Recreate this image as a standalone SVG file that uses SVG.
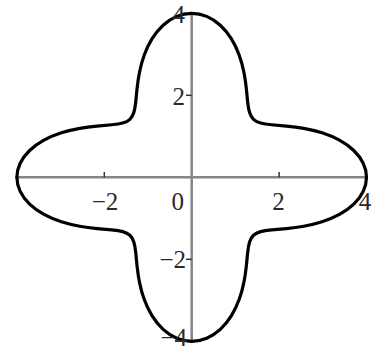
<svg xmlns="http://www.w3.org/2000/svg" xmlns:xlink="http://www.w3.org/1999/xlink" width="373" height="353" viewBox="0 0 373 353">
<style>
.axis{stroke:#858585;stroke-width:2.5;fill:none}
.tick{stroke:#333;stroke-width:1.5;fill:none}
.curve{fill:none;stroke:#000;stroke-width:3.2;vector-effect:non-scaling-stroke;stroke-linecap:round;stroke-linejoin:round}
.lbl{font-family:"Liberation Serif","Times New Roman",serif;font-size:25px;fill:#2a2a2a}
</style>
<defs>
<path id="q" class="curve" d="M4,0 C4,0.11636 3.97431,0.23268 3.92468,0.34338 C3.87505,0.45408 3.80152,0.55907 3.70884,0.65397 C3.61616,0.74887 3.50442,0.83361 3.38074,0.90587 C3.25706,0.97813 3.1215,1.0379 2.98225,1.08546 C2.843,1.13302 2.70015,1.16838 2.56155,1.19447 C2.42295,1.22056 2.28869,1.2374 2.16506,1.25 C2.04143,1.2626 1.92849,1.27102 1.82995,1.28135 C1.73141,1.29168 1.64729,1.30402 1.57828,1.32435 C1.50927,1.34468 1.45535,1.37307 1.41421,1.41421 C1.37307,1.45535 1.34468,1.50927 1.32435,1.57828 C1.30402,1.64729 1.29168,1.73141 1.28135,1.82995 C1.27102,1.92849 1.2626,2.04143 1.25,2.16506 C1.2374,2.28869 1.22056,2.42295 1.19447,2.56155 C1.16838,2.70015 1.13302,2.843 1.08546,2.98225 C1.0379,3.1215 0.97813,3.25706 0.90587,3.38074 C0.83361,3.50442 0.74887,3.61616 0.65397,3.70884 C0.55907,3.80152 0.45408,3.87505 0.34338,3.92468 C0.23268,3.97431 0.11636,4 0,4"/>
</defs>
<g id="axes">
<line class="axis" x1="18" y1="177.3" x2="366" y2="177.3"/>
<line class="axis" x1="191.7" y1="13" x2="191.7" y2="341"/>
<line class="tick" x1="104.3" y1="172" x2="104.3" y2="177.3"/>
<line class="tick" x1="279.1" y1="172" x2="279.1" y2="177.3"/>
<line class="tick" x1="186" y1="95.3" x2="191.7" y2="95.3"/>
<line class="tick" x1="186" y1="259.3" x2="191.7" y2="259.3"/>
</g>
<g id="curve" transform="matrix(43.7 0 0 -41 191.7 177.3)">
<use xlink:href="#q"/>
<use xlink:href="#q" transform="scale(-1,1)"/>
<use xlink:href="#q" transform="scale(1,-1)"/>
<use xlink:href="#q" transform="scale(-1,-1)"/>
</g>
<g id="labels">
<text class="lbl" x="185" y="23" text-anchor="end">4</text>
<text class="lbl" x="185" y="105" text-anchor="end">2</text>
<text class="lbl" x="184" y="210" text-anchor="end">0</text>
<text class="lbl" x="186" y="268" text-anchor="end">−2</text>
<text class="lbl" x="187" y="346" text-anchor="end">−4</text>
<text class="lbl" x="105" y="210" text-anchor="middle">−2</text>
<text class="lbl" x="278.5" y="210" text-anchor="middle">2</text>
<text class="lbl" x="365" y="210" text-anchor="middle">4</text>
</g>
</svg>
